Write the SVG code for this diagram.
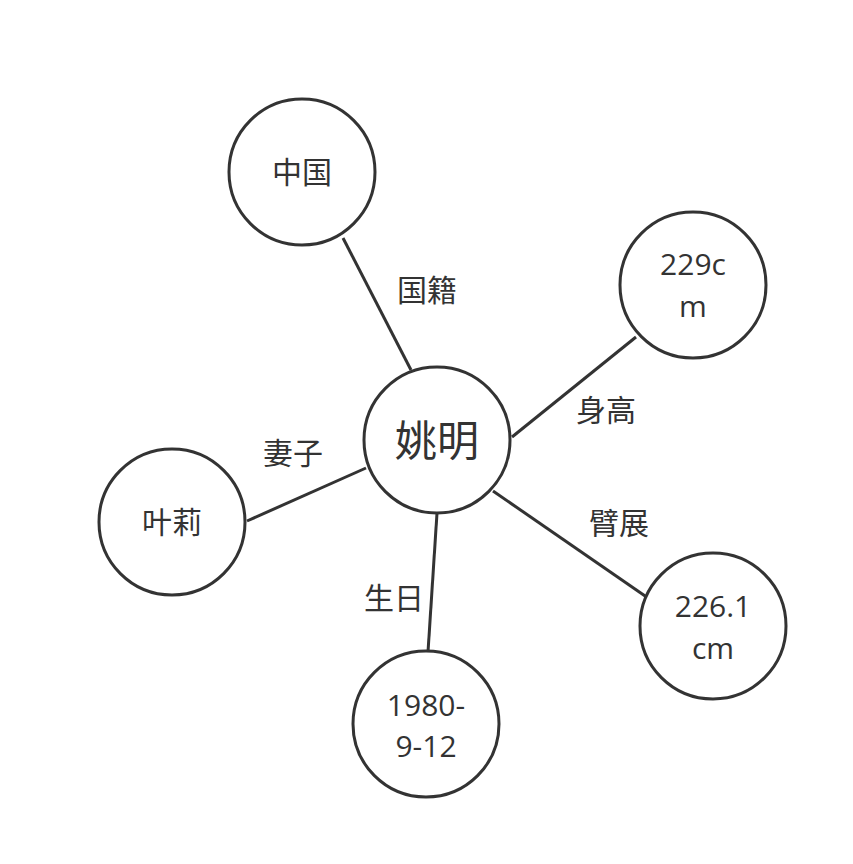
<svg xmlns="http://www.w3.org/2000/svg" width="853" height="864" viewBox="0 0 853 864">
<style>
circle{fill:#fff;stroke:#333;stroke-width:3}
line{stroke:#333;stroke-width:3}
text{font-family:"Open Sans","Noto Sans CJK SC",sans-serif;fill:#333;font-size:30px;text-anchor:middle}
</style>
<rect width="853" height="864" fill="#fff"/>
<g id="connectors">
<line x1="343" y1="238" x2="411" y2="370"/>
<line x1="636" y1="337" x2="512" y2="437"/>
<line x1="247" y1="521" x2="366" y2="468"/>
<line x1="428" y1="652" x2="437" y2="513"/>
<line x1="648" y1="598" x2="493" y2="491"/>
<text x="427" y="301">国籍</text>
<text x="606" y="421">身高</text>
<text x="293" y="464">妻子</text>
<text x="394" y="609">生日</text>
<text x="619" y="534">臂展</text>
</g>
<g id="center"><circle cx="437" cy="440" r="73"/><text x="437" y="456" style="font-size:42px">姚明</text></g>
<g id="china"><circle cx="302" cy="172" r="73"/><text x="302" y="183">中国</text></g>
<g id="height"><circle cx="693" cy="285" r="73"/><text x="693" y="275">229c</text><text x="693" y="317">m</text></g>
<g id="wife"><circle cx="172" cy="522" r="73"/><text x="172" y="533">叶莉</text></g>
<g id="birthday"><circle cx="426" cy="724" r="73"/><text x="426" y="716">1980-</text><text x="426" y="757">9-12</text></g>
<g id="span"><circle cx="713" cy="626" r="73"/><text x="713" y="617">226.1</text><text x="713" y="659">cm</text></g>
</svg>
